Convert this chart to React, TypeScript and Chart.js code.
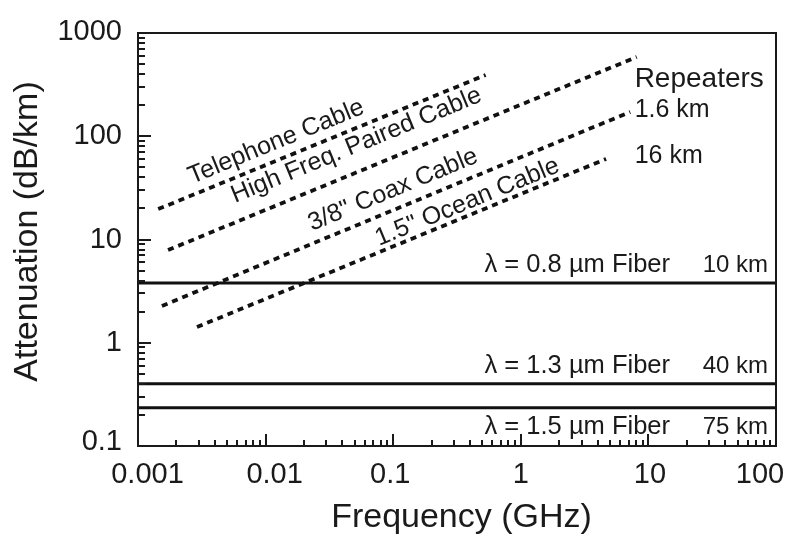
import React, { useEffect, useRef } from "react";
import { Chart, registerables } from "chart.js";

Chart.register(...registerables);

// ---------- data ----------
const cableNames = ["Telephone Cable", "High Freq. Paired Cable", '3/8" Coax Cable', '1.5" Ocean Cable'];
const cableFreqStart = [0.00144, 0.00172, 0.00154, 0.0029];
const cableFreqEnd = [0.53, 8.1, 7.2, 4.66];
const cableAttenStart = [19.7, 7.9, 2.27, 1.42];
const cableAttenEnd = [392, 586, 172, 60.3];

const fiberNames = ["λ = 0.8 µm Fiber", "λ = 1.3 µm Fiber", "λ = 1.5 µm Fiber"];
const fiberRepeaters = ["10 km", "40 km", "75 km"];
const fiberAtten = [3.8, 0.4, 0.235];
const freqRange = [0.001, 100];
const attenRange = [0.1, 1000];

const repeaterLabels = ["Repeaters", "1.6 km", "16 km"];

const xTickValues = [0.001, 0.01, 0.1, 1, 10, 100];
const xTickLabels = ["0.001", "0.01", "0.1", "1", "10", "100"];
const yTickValues = [0.1, 1, 10, 100, 1000];
const yTickLabels = ["0.1", "1", "10", "100", "1000"];

const xTitle = "Frequency (GHz)";
const yTitle = "Attenuation (dB/km)";

// ---------- annotation placement (kept apart from the data) ----------
const cableLabelAnchorX = [0.00265, 0.00576, 0.0231, 0.0774];
const cableLabelAnchorY = [34.5, 22.6, 12.1, 8.65];
const repeaterAnchorX = [7.8, 7.8, 7.8];
const repeaterAnchorY = [300, 153, 55];
const fiberLabelDy = [-11, -11, 26];
const xLabelDx = [9.5, 9, -3, 0, 1.5, -16];
const yLabelDy = [-4, 0, 0, 0, -1];

const FONT = "'Liberation Sans', Arial, Helvetica, sans-serif";
const INK = "#1a1a1a";

const overlayPlugin = {
  id: "overlay",
  afterDraw(chart: any) {
    const { ctx, chartArea, scales } = chart;
    const { left, right, top, bottom } = chartArea;
    const xs = scales.x;
    const ys = scales.y;
    ctx.save();
    ctx.strokeStyle = INK;
    ctx.fillStyle = INK;

    // frame
    ctx.lineWidth = 2;
    ctx.strokeRect(left, top, right - left, bottom - top);

    // y ticks (inward)
    ctx.lineWidth = 2;
    for (let i = 0; i < yTickValues.length; i++) {
      const v = yTickValues[i];
      const p = Math.round(ys.getPixelForValue(v));
      ctx.beginPath();
      ctx.moveTo(left, p);
      ctx.lineTo(left + 13, p);
      ctx.stroke();
      if (i < yTickValues.length - 1) {
        for (let m = 2; m <= 9; m++) {
          const q = Math.round(ys.getPixelForValue(v * m));
          ctx.beginPath();
          ctx.moveTo(left, q);
          ctx.lineTo(left + 7, q);
          ctx.stroke();
        }
      }
    }
    // x ticks (inward)
    for (let i = 0; i < xTickValues.length; i++) {
      const v = xTickValues[i];
      const p = Math.round(xs.getPixelForValue(v));
      ctx.beginPath();
      ctx.moveTo(p, bottom);
      ctx.lineTo(p, bottom - 12);
      ctx.stroke();
      if (i < xTickValues.length - 1) {
        for (let m = 2; m <= 9; m++) {
          const q = Math.round(xs.getPixelForValue(v * m));
          ctx.beginPath();
          ctx.moveTo(q, bottom);
          ctx.lineTo(q, bottom - 6);
          ctx.stroke();
        }
      }
    }

    // tick labels
    ctx.font = `29px ${FONT}`;
    ctx.textBaseline = "middle";
    ctx.textAlign = "right";
    yTickValues.forEach((v, i) => {
      ctx.fillText(yTickLabels[i], left - 16, ys.getPixelForValue(v) + yLabelDy[i]);
    });
    ctx.textAlign = "center";
    xTickValues.forEach((v, i) => {
      ctx.fillText(xTickLabels[i], xs.getPixelForValue(v) + xLabelDx[i], bottom + 29);
    });

    // axis titles
    ctx.font = `34px ${FONT}`;
    ctx.textAlign = "center";
    ctx.textBaseline = "middle";
    ctx.fillText(xTitle, (left + right) / 2 + 4.5, bottom + 72);
    ctx.save();
    ctx.translate(left - 110, (top + bottom) / 2 - 8);
    ctx.rotate(-Math.PI / 2);
    ctx.fillText(yTitle, 0, 0);
    ctx.restore();

    // cable labels along lines
    ctx.font = `25px ${FONT}`;
    ctx.textAlign = "left";
    ctx.textBaseline = "alphabetic";
    cableNames.forEach((name, i) => {
      const x0 = xs.getPixelForValue(cableFreqStart[i]);
      const y0 = ys.getPixelForValue(cableAttenStart[i]);
      const x1 = xs.getPixelForValue(cableFreqEnd[i]);
      const y1 = ys.getPixelForValue(cableAttenEnd[i]);
      const ang = Math.atan2(y1 - y0, x1 - x0);
      ctx.save();
      ctx.translate(xs.getPixelForValue(cableLabelAnchorX[i]), ys.getPixelForValue(cableLabelAnchorY[i]));
      ctx.rotate(ang);
      ctx.fillText(name, 0, 0);
      ctx.restore();
    });

    // repeater labels
    repeaterLabels.forEach((t, i) => {
      ctx.font = i === 0 ? `28px ${FONT}` : `25px ${FONT}`;
      ctx.fillText(t, xs.getPixelForValue(repeaterAnchorX[i]), ys.getPixelForValue(repeaterAnchorY[i]));
    });

    // fiber labels
    ctx.textAlign = "right";
    fiberNames.forEach((name, i) => {
      const y = ys.getPixelForValue(fiberAtten[i]) + fiberLabelDy[i];
      ctx.font = `25.5px ${FONT}`;
      ctx.fillText(name, right - 106, y);
      ctx.font = `24px ${FONT}`;
      ctx.fillText(fiberRepeaters[i], right - 8, y);
    });

    ctx.restore();
  },
};

export default function App() {
  const ref = useRef<HTMLCanvasElement | null>(null);

  useEffect(() => {
    if (!ref.current) return;
    const datasets: any[] = [];
    cableNames.forEach((name, i) => {
      datasets.push({
        label: name,
        data: [
          { x: cableFreqStart[i], y: cableAttenStart[i] },
          { x: cableFreqEnd[i], y: cableAttenEnd[i] },
        ],
        borderColor: "#111",
        borderWidth: 3.8,
        borderDash: [6, 5],
        pointRadius: 0,
        fill: false,
        tension: 0,
      });
    });
    fiberNames.forEach((name, i) => {
      datasets.push({
        label: name,
        data: [
          { x: freqRange[0], y: fiberAtten[i] },
          { x: freqRange[1], y: fiberAtten[i] },
        ],
        borderColor: "#111",
        borderWidth: 3,
        pointRadius: 0,
        fill: false,
        tension: 0,
      });
    });

    const chart = new Chart(ref.current, {
      type: "line",
      data: { datasets },
      options: {
        animation: false,
        responsive: false,
        devicePixelRatio: 1,
        layout: { padding: { left: 0, top: 33, right: 15, bottom: 0 } },
        plugins: { legend: { display: false }, tooltip: { enabled: false } },
        scales: {
          x: {
            type: "logarithmic",
            position: "bottom",
            min: freqRange[0],
            max: freqRange[1],
            grid: { display: false },
            border: { display: false },
            ticks: { display: false },
            afterFit: (s: any) => {
              s.height = 90;
            },
          },
          y: {
            type: "logarithmic",
            position: "left",
            min: attenRange[0],
            max: attenRange[1],
            grid: { display: false },
            border: { display: false },
            ticks: { display: false },
            afterFit: (s: any) => {
              s.width = 138;
            },
          },
        },
      } as any,
      plugins: [overlayPlugin],
    });
    return () => chart.destroy();
  }, []);

  return (
    <div style={{ position: "fixed", left: 0, top: 0, width: 791, height: 536, background: "#fff" }}>
      <canvas ref={ref} width={791} height={536} style={{ width: 791, height: 536 }} />
    </div>
  );
}
